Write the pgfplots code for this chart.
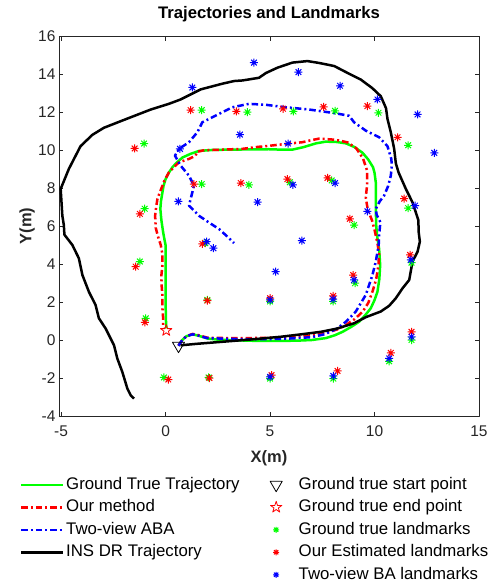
\documentclass[border=0pt]{standalone}
\usepackage{pgfplots}
\pgfplotsset{compat=1.18}
\usepackage{fontspec}
\setmainfont{Liberation Sans}
\definecolor{axgray}{RGB}{38,38,38}
\definecolor{mgreen}{RGB}{0,255,0}
\definecolor{mred}{RGB}{255,0,0}
\definecolor{mblue}{RGB}{0,0,255}
\pgfdeclareplotmark{ast8}{%
 \pgfpathmoveto{\pgfqpoint{-\pgfplotmarksize}{0pt}}\pgfpathlineto{\pgfqpoint{\pgfplotmarksize}{0pt}}%
 \pgfpathmoveto{\pgfqpoint{0pt}{-\pgfplotmarksize}}\pgfpathlineto{\pgfqpoint{0pt}{\pgfplotmarksize}}%
 \pgfpathmoveto{\pgfqpoint{-0.707\pgfplotmarksize}{-0.707\pgfplotmarksize}}\pgfpathlineto{\pgfqpoint{0.707\pgfplotmarksize}{0.707\pgfplotmarksize}}%
 \pgfpathmoveto{\pgfqpoint{-0.707\pgfplotmarksize}{0.707\pgfplotmarksize}}\pgfpathlineto{\pgfqpoint{0.707\pgfplotmarksize}{-0.707\pgfplotmarksize}}%
 \pgfusepathqstroke}
\pgfdeclareplotmark{pentagram}{%
 \pgfpathmoveto{\pgfqpointpolar{90}{\pgfplotmarksize}}%
 \pgfpathlineto{\pgfqpointpolar{126}{0.382\pgfplotmarksize}}%
 \pgfpathlineto{\pgfqpointpolar{162}{\pgfplotmarksize}}%
 \pgfpathlineto{\pgfqpointpolar{198}{0.382\pgfplotmarksize}}%
 \pgfpathlineto{\pgfqpointpolar{234}{\pgfplotmarksize}}%
 \pgfpathlineto{\pgfqpointpolar{270}{0.382\pgfplotmarksize}}%
 \pgfpathlineto{\pgfqpointpolar{306}{\pgfplotmarksize}}%
 \pgfpathlineto{\pgfqpointpolar{342}{0.382\pgfplotmarksize}}%
 \pgfpathlineto{\pgfqpointpolar{18}{\pgfplotmarksize}}%
 \pgfpathlineto{\pgfqpointpolar{54}{0.382\pgfplotmarksize}}%
 \pgfpathclose\pgfusepathqstroke}
\tikzset{dashdotm/.style={dash pattern=on 6.5pt off 3pt on 2pt off 3pt}}
\begin{document}
\begin{tikzpicture}
\path[use as bounding box] (-59pt,-171pt) rectangle (437pt,416pt);
\begin{axis}[
 at={(0pt,0pt)}, anchor=south west,
 width=420pt, height=380pt, scale only axis,
 xmin=-5.1, xmax=15, ymin=-4, ymax=16,
 xtick={-5,0,5,10,15}, ytick={-4,-2,0,2,4,6,8,10,12,14,16},
 tick align=inside, major tick length=4.5pt,
 axis line style={axgray, line width=0.8pt},
 every tick/.style={axgray, line width=0.8pt},
 tick label style={font=\fontsize{15.5}{18}\selectfont, text=axgray},
 xticklabel style={yshift=-6pt},
 /pgf/number format/assume math mode=true,
 title={\textbf{Trajectories and Landmarks}},
 title style={font=\fontsize{16.7}{20}\selectfont, at={(axis description cs:0.5,1.042)}, anchor=center},
 xlabel={\textbf{X(m)}}, ylabel={\textbf{Y(m)}},
 xlabel style={font=\fontsize{16.5}{20}\selectfont, text=axgray, at={(axis description cs:0.5,-0.11)}, anchor=center},
 ylabel style={font=\fontsize{16.5}{20}\selectfont, text=axgray, at={(axis description cs:-0.076,0.5)}, anchor=center},
 line join=round,
 legend image code/.code={\path[draw=none,fill=none] (0pt,-1pt) rectangle (42pt,1pt);\draw[mark repeat=2,mark phase=2,#1] plot coordinates {(0pt,0pt) (21pt,0pt) (42pt,0pt)};},
 legend columns=2,
 legend style={draw=none, fill=none, inner sep=0pt, at={(-0.0929,-0.160)}, anchor=north west,
   font=\fontsize{16.8}{20}\selectfont, row sep=7pt,
   nodes={inner xsep=1.5pt, inner ysep=0pt, text height=12pt, text depth=3.5pt},
   /tikz/every even column/.append style={column sep=11.5pt}},
 legend cell align=left,
]
% Ground truth trajectory
\addplot[mgreen, line width=2.5pt, forget plot] coordinates {
(0.62,-0.3) (0.8,0.0) (1.0,0.2) (1.3,0.3) (1.6,0.22) (2.0,0.08) (2.5,0.02) (3.5,-0.02) (4.5,-0.05) (5.5,-0.05) (6.4,-0.03) (7.0,0.0) (7.67,0.1) (8.1,0.25) (8.47,0.43) (8.9,0.7) (9.26,0.96) (9.55,1.3) (9.82,1.67) (10.0,2.1) (10.14,2.54) (10.23,3.2) (10.27,3.95) (10.22,4.8) (10.12,5.5) (10.08,6.06) (10.06,7.0) (10.06,8.3) (10.0,8.8) (9.93,9.09) (9.7,9.5) (9.43,9.85) (9.05,10.15) (8.63,10.35) (8.2,10.42) (7.67,10.44) (7.2,10.35) (6.6,10.15) (6.07,10.02) (5.5,10.02) (4.95,10.04) (4.0,10.03) (3.0,10.02) (2.2,10.0) (1.6,9.95) (1.2,9.8) (0.8,9.6) (0.5,9.3) (0.33,9.09) (0.15,8.8) (0.0,8.47) (-0.1,8.1) (-0.15,7.77) (-0.22,7.3) (-0.25,6.9) (-0.2,6.3) (-0.12,5.7) (-0.05,5.27) (0.0,5.0) (0.0,4.0) (0.0,3.0) (0.0,2.0) (0.02,1.0) (0.04,0.61)
};
% Our method
\addplot[mred, line width=2.5pt, dashdotm, forget plot] coordinates {
(0.62,-0.3) (0.8,0.0) (1.0,0.2) (1.3,0.32) (1.6,0.25) (2.0,0.12) (3.0,0.1) (4.0,0.1) (5.0,0.12) (6.0,0.15) (7.0,0.25) (7.7,0.38) (8.2,0.55) (8.63,0.79) (9.05,1.1) (9.43,1.49) (9.7,1.95) (9.9,2.54) (10.08,3.2) (10.19,3.95) (10.22,4.6) (10.12,5.2) (10.0,5.8) (9.88,6.3) (9.68,6.85) (9.58,7.5) (9.65,8.2) (9.65,8.9) (9.45,9.55) (9.12,10.1) (8.71,10.4) (8.3,10.5) (7.99,10.55) (7.35,10.6) (6.9,10.5) (6.55,10.41) (5.75,10.32) (4.95,10.22) (4.3,10.15) (3.68,10.06) (2.72,10.02) (1.8,9.98) (1.5,9.9) (1.44,9.7) (1.12,9.53) (0.64,9.35) (0.4,9.1) (0.16,8.82) (-0.05,8.4) (-0.15,8.12) (-0.3,7.7) (-0.39,7.42) (-0.45,7.0) (-0.5,6.54) (-0.47,5.9) (-0.35,5.4) (-0.23,5.0) (-0.15,4.5) (-0.15,3.95) (-0.2,3.4) (-0.19,2.9) (-0.15,2.3) (-0.15,1.67) (-0.12,1.2) (-0.12,0.79) (-0.05,0.6)
};
% Two-view ABA
\addplot[mblue, line width=2.5pt, dashdotm, forget plot] coordinates {
(0.62,-0.3) (0.8,0.0) (1.0,0.2) (1.3,0.3) (1.6,0.22) (2.0,0.1) (3.0,0.06) (4.0,0.04) (5.0,0.05) (6.0,0.08) (7.0,0.15) (7.6,0.3) (8.2,0.6) (8.63,0.96) (9.1,1.49) (9.58,2.37) (9.9,3.42) (10.06,4.13) (10.2,5.0) (10.22,5.5) (10.25,5.85) (10.28,6.2) (10.1,6.6) (10.06,6.9) (10.25,7.3) (10.46,7.6) (10.65,8.1) (10.78,8.65) (10.83,9.2) (10.8,9.55) (10.62,10.2) (10.22,10.67) (9.58,11.02) (9.02,11.46) (8.79,11.8) (8.15,11.93) (6.87,12.13) (5.75,12.25) (4.79,12.38) (3.99,12.43) (3.2,12.25) (2.56,11.9) (1.76,11.46) (1.52,10.93) (1.12,10.41) (0.64,10.06) (0.45,9.7) (0.72,9.18) (1.12,8.65) (1.36,8.12) (1.2,7.42) (1.12,7.07) (1.6,6.54) (2.08,6.18) (2.56,5.84) (2.9,5.5) (3.28,5.1)
};
% INS DR
\addplot[black, line width=2.5pt, forget plot] coordinates {
(0.72,-0.28) (1.5,-0.2) (2.64,-0.1) (4.0,0.02) (5.51,0.17) (6.5,0.3) (7.43,0.43) (8.2,0.6) (9.02,0.88) (9.58,1.2) (10.3,1.5) (10.7,1.8) (11.02,2.2) (11.34,2.72) (11.66,3.16) (11.82,4.13) (12.06,4.65) (12.17,5.18) (12.11,5.71) (12.1,6.3) (11.82,7.24) (11.5,7.95) (11.15,8.82) (11.02,9.3) (10.94,10.06) (10.78,10.93) (10.62,11.64) (10.55,12.2) (10.3,12.83) (9.9,13.25) (9.34,13.71) (8.79,14.01) (8.07,14.42) (7.35,14.58) (6.79,14.68) (6.07,14.6) (5.35,14.33) (4.8,14.05) (4.47,13.8) (3.68,13.66) (3.28,13.63) (2.72,13.49) (1.68,13.19) (0.72,12.66) (0.16,12.43) (-0.71,12.13) (-2.07,11.55) (-2.95,11.17) (-3.5,10.8) (-4.07,10.2) (-4.63,9.0) (-5.02,7.95) (-4.94,6.54) (-4.87,6.06) (-4.84,5.54) (-4.46,5.0) (-4.15,4.3) (-3.98,3.42) (-3.67,2.54) (-3.35,1.84) (-3.19,1.14) (-2.87,0.61) (-2.47,-0.27) (-2.31,-0.97) (-2.07,-1.68) (-1.83,-2.55) (-1.67,-2.91) (-1.51,-3.08)
};
% start and end
\addplot[black, only marks, mark=triangle, mark size=7pt, mark options={rotate=180, line width=0.8pt}, forget plot] coordinates {(0.62,-0.3)};
\addplot[mred, only marks, mark=pentagram, mark size=6pt, mark options={line width=0.8pt}, forget plot] coordinates {(0.03,0.5)};
% Ground true landmarks
\addplot[mgreen, only marks, mark=ast8, mark size=4pt, mark options={line width=1pt}, forget plot] coordinates {
(1.73,12.1) (3.92,11.99) (6.12,12.03) (8.11,12.06) (10.19,11.96) (11.61,10.25) (-1.03,10.34) (1.73,8.21) (3.99,8.17) (5.95,8.3) (7.95,8.4) (11.61,6.94) (-1.0,6.91) (9.02,6.05) (1.9,5.1) (11.77,4.07) (-1.23,4.13) (9.07,2.99) (2.0,2.11) (5.0,2.03) (8.02,2.03) (-0.95,1.14) (11.77,0.0) (10.7,-1.12) (-0.08,-1.97) (2.06,-1.97) (5.0,-2.03) (8.03,-2.03)
};
% Our estimated landmarks
\addplot[mred, only marks, mark=ast8, mark size=4pt, mark options={line width=1pt}, forget plot] coordinates {
(1.2,12.1) (3.39,12.03) (5.62,12.17) (7.56,12.27) (9.66,12.31) (11.1,10.67) (-1.48,10.08) (1.36,8.21) (3.6,8.26) (5.83,8.47) (7.75,8.53) (11.42,7.44) (-1.23,6.64) (8.82,6.38) (1.76,5.06) (11.7,4.48) (-1.43,3.86) (8.98,3.42) (2.0,2.07) (5.0,2.2) (8.02,2.32) (-0.99,0.93) (11.77,0.43) (10.78,-0.68) (0.13,-2.08) (2.1,-2.0) (5.07,-1.85) (8.23,-1.63)
};
% Two-view BA landmarks
\addplot[mblue, only marks, mark=ast8, mark size=4pt, mark options={line width=1pt}, forget plot] coordinates {
(4.23,14.6) (6.36,14.1) (1.28,13.29) (8.35,13.38) (10.14,12.66) (12.06,11.87) (3.56,10.81) (5.86,10.34) (12.86,9.85) (0.69,10.06) (6.09,8.17) (8.11,8.26) (0.61,7.29) (4.4,7.26) (11.94,7.07) (9.66,6.77) (1.97,5.18) (2.29,4.83) (6.52,5.23) (11.74,4.22) (5.27,3.6) (9.02,3.16) (5.0,2.11) (8.02,2.15) (11.77,0.17) (10.7,-0.97) (5.0,-1.94) (8.03,-1.89)
};
% legend (row-wise order, two columns)
\addlegendimage{mgreen, line width=2.5pt}
\addlegendentry{\makebox[176pt][l]{Ground True Trajectory}}
\addlegendimage{black, only marks, mark=triangle, mark size=7pt, mark options={rotate=180, line width=0.8pt}}
\addlegendentry{Ground true start point}
\addlegendimage{mred, line width=2.5pt, dashdotm}
\addlegendentry{Our method}
\addlegendimage{mred, only marks, mark=pentagram, mark size=6pt, mark options={line width=0.8pt}}
\addlegendentry{Ground true end point}
\addlegendimage{mblue, line width=2.5pt, dashdotm}
\addlegendentry{Two-view ABA}
\addlegendimage{mgreen, only marks, mark=ast8, mark size=3pt, mark options={line width=1pt}}
\addlegendentry{Ground true landmarks}
\addlegendimage{black, line width=2.5pt}
\addlegendentry{INS DR Trajectory}
\addlegendimage{mred, only marks, mark=ast8, mark size=3pt, mark options={line width=1pt}}
\addlegendentry{Our Estimated landmarks}
\addlegendimage{empty legend}
\addlegendentry{}
\addlegendimage{mblue, only marks, mark=ast8, mark size=3pt, mark options={line width=1pt}}
\addlegendentry{Two-view BA landmarks}
\end{axis}
\end{tikzpicture}
\end{document}
